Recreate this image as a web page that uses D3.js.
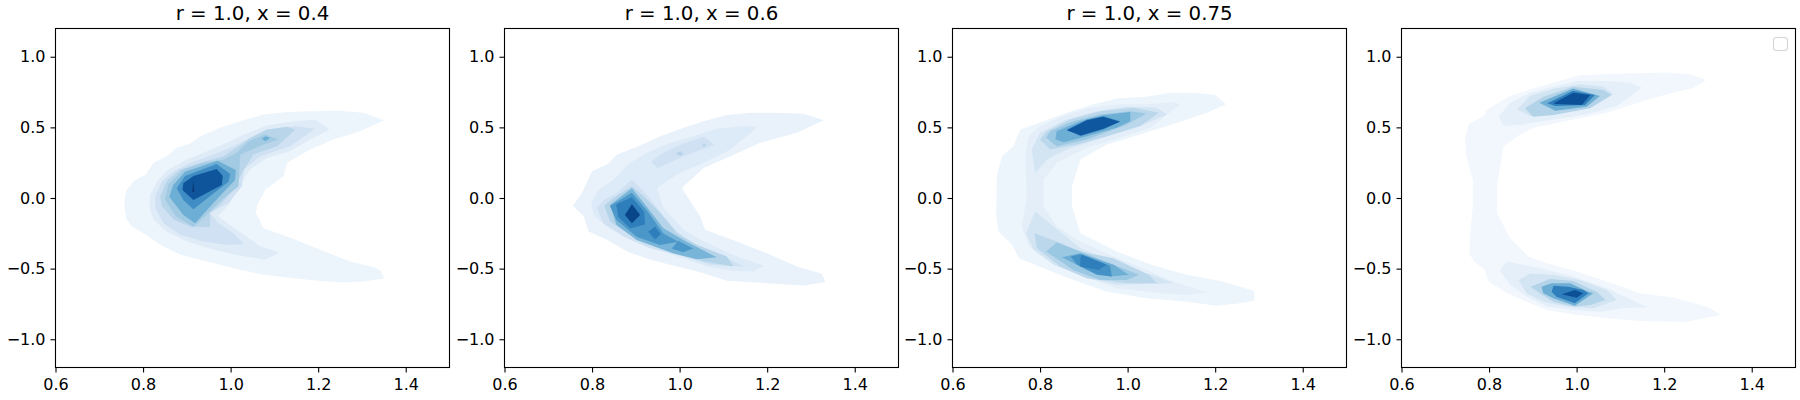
<!DOCTYPE html>
<html lang="en">
<head>
<meta charset="UTF-8">
<title>r = 1.0 density panels</title>
<script src="https://cdn.jsdelivr.net/npm/d3@7"></script>
<style>
    html, body { margin: 0; background: #fff; }
    svg { display: block; }
</style>
</head>
<body>
<script>
const titles = ['r = 1.0, x = 0.4', 'r = 1.0, x = 0.6', 'r = 1.0, x = 0.75', ''];
const xTicks = [0.6, 0.8, 1.0, 1.2, 1.4];
const yTicks = [-1.0, -0.5, 0.0, 0.5, 1.0];

// density level (0..1 of the Blues ramp) of each filled contour
const panel1Levels = [0.05, 0.12, 0.2, 0.29, 0.36, 0.5, 0.5, 0.64, 0.86, 1.0];
const panel1Contours = [
    [[1.351,.551],[1.304,.604],[1.25,.618],[1.182,.615],[1.129,.608],[1.075,.592],[1.022,.544],[.976,.497],[.931,.438],[.908,.386],[.877,.355],[.854,.296],[.824,.249],[.806,.166],[.778,.118],[.761,.047],[.757,-.036],[.761,-.142],[.774,-.201],[.801,-.249],[.839,-.331],[.885,-.402],[.946,-.45],[1.007,-.497],[1.075,-.544],[1.144,-.568],[1.205,-.587],[1.258,-.599],[1.304,-.592],[1.351,-.57],[1.342,-.509],[1.327,-.49],[1.273,-.45],[1.205,-.367],[1.144,-.291],[1.075,-.213],[1.058,-.107],[1.06,-.059],[1.079,.059],[1.121,.154],[1.129,.249],[1.182,.343],[1.235,.414],[1.296,.473]],
    [[1.226,.485],[1.193,.556],[1.144,.544],[1.083,.514],[1.03,.45],[.991,.391],[.946,.331],[.9,.272],[.858,.201],[.832,.118],[.815,.012],[.815,-.071],[.824,-.154],[.854,-.237],[.9,-.308],[.961,-.367],[1.022,-.409],[1.079,-.438],[1.113,-.386],[1.068,-.343],[1.014,-.225],[.972,-.13],[.999,-.036],[1.014,.059],[1.045,.201],[1.083,.284],[1.136,.331],[1.182,.414]],
    [[1.193,.49],[1.148,.509],[1.083,.473],[1.037,.414],[1.007,.367],[.961,.308],[.908,.249],[.87,.189],[.843,.118],[.828,.012],[.828,-.071],[.847,-.178],[.885,-.26],[.938,-.308],[.991,-.331],[1.031,-.327],[1.007,-.249],[.972,-.178],[.953,-.107],[.995,-.036],[1.026,.083],[1.03,.201],[1.068,.296],[1.136,.367]],
    [[1.148,.485],[1.129,.504],[1.083,.485],[1.045,.426],[1.018,.367],[.984,.296],[.931,.249],[.885,.201],[.854,.118],[.839,.012],[.843,-.059],[.87,-.154],[.908,-.201],[.953,-.206],[.953,-.107],[.976,-.047],[1.01,.071],[1.026,.178],[1.052,.308],[1.106,.367]],
    [[1.11,.414],[1.079,.45],[1.041,.402],[1.014,.32],[.984,.272],[.938,.249],[.892,.201],[.858,.095],[.85,-.012],[.875,-.13],[.915,-.205],[.945,-.12],[.98,-.012],[1.018,.083],[1.02,.201],[1.022,.308],[1.075,.379]],
    [[1.071,.419],[1.08,.438],[1.09,.426],[1.08,.402]],
    [[.86,.009],[.869,.092],[.896,.186],[.97,.264],[1.012,.198],[1.01,.127],[.96,-.038],[.919,-.179],[.892,-.12]],
    [[.877,.069],[.896,.156],[.968,.241],[.999,.17],[.995,.115],[.915,-.08],[.892,-.014]],
    [[.892,.104],[.915,.156],[.968,.205],[.982,.156],[.98,.092],[.915,-.014],[.89,.057]],
    [[.914,.118],[.917,.045],[.913,.045]]
];

const panel2Levels = [0.07, 0.13, 0.2, 0.3, 0.3, 0.2, 0.3, 0.47, 0.6, 0.6, 0.7, 0.7, 0.92];
const panel2Contours = [
    [[1.33,.551],[1.283,.596],[1.222,.604],[1.161,.604],[1.108,.587],[1.055,.544],[1.009,.497],[.956,.438],[.91,.372],[.857,.308],[.834,.237],[.8,.189],[.784,.083],[.777,.036],[.756,-.054],[.781,-.13],[.792,-.237],[.834,-.296],[.88,-.379],[.933,-.438],[.994,-.485],[1.055,-.533],[1.108,-.585],[1.177,-.599],[1.237,-.611],[1.283,-.62],[1.333,-.596],[1.325,-.537],[1.268,-.485],[1.199,-.391],[1.131,-.308],[1.058,-.225],[1.047,-.13],[1.005,.071],[1.055,.213],[1.116,.296],[1.184,.391],[1.268,.462]],
    [[1.178,.502],[1.146,.509],[1.085,.49],[1.032,.438],[.979,.391],[.925,.32],[.887,.249],[.849,.13],[.815,.059],[.798,-.036],[.803,-.118],[.834,-.201],[.887,-.296],[.948,-.367],[1.009,-.426],[1.062,-.485],[1.116,-.514],[1.169,-.521],[1.192,-.478],[1.131,-.414],[1.055,-.308],[1.009,-.225],[.963,-.071],[.948,.071],[.994,.166],[1.055,.249],[1.116,.343]],
    [[1.079,.379],[1.056,.433],[1.009,.386],[.963,.32],[.935,.256],[.95,.213],[1.009,.296],[1.062,.355]],
    [[.992,.315],[1.001,.331],[1.009,.315],[1.001,.296]],
    [[1.051,.374],[1.056,.386],[1.061,.372],[1.055,.362]],
    [[.891,.13],[.857,.036],[.828,-.012],[.811,-.071],[.826,-.178],[.872,-.272],[.933,-.355],[1.009,-.414],[1.07,-.473],[1.146,-.485],[1.093,-.402],[1.032,-.331],[.994,-.237],[.963,-.13],[.925,.024]],
    [[.891,.083],[.849,0],[.828,-.054],[.841,-.166],[.887,-.26],[.948,-.338],[1.009,-.395],[1.055,-.45],[1.123,-.485],[1.108,-.414],[1.039,-.331],[.994,-.249],[.956,-.107],[.918,.012]],
    [[.841,-.05],[.891,.069],[.925,-.062],[.963,-.215],[1.016,-.31],[1.085,-.42],[1.039,-.434],[.985,-.392],[.902,-.297],[.856,-.192]],
    [[.841,-.057],[.891,.037],[.925,-.086],[.963,-.251],[.997,-.31],[.955,-.333],[.902,-.275],[.856,-.156]],
    [[.982,-.357],[.997,-.303],[1.031,-.357],[1.008,-.384]],
    [[.855,-.045],[.891,.005],[.919,-.097],[.921,-.187],[.887,-.215],[.86,-.133]],
    [[.928,-.239],[.944,-.203],[.957,-.255],[.944,-.293]],
    [[.891,-.045],[.91,-.12],[.891,-.179],[.875,-.12]]
];

const panel3Levels = [0.05, 0.1, 0.18, 0.18, 0.28, 0.28, 0.38, 0.38, 0.5, 0.5, 0.62, 0.62, 0.85, 0.7];
const panel3Contours = [
    [[1.225,.663],[1.2,.729],[1.151,.746],[1.097,.746],[1.044,.717],[.975,.705],[.922,.663],[.861,.604],[.808,.544],[.755,.485],[.739,.367],[.713,.296],[.701,.154],[.7,-.13],[.705,-.237],[.736,-.331],[.752,-.426],[.808,-.497],[.876,-.58],[.953,-.663],[1.044,-.71],[1.135,-.734],[1.204,-.762],[1.257,-.746],[1.289,-.727],[1.289,-.656],[1.212,-.587],[1.135,-.544],[1.059,-.478],[.975,-.379],[.892,-.249],[.873,-.059],[.873,.083],[.892,.272],[.953,.379],[1.029,.45],[1.113,.533],[1.181,.604]],
    [[1.12,.663],[1.105,.679],[1.044,.663],[.975,.663],[.915,.639],[.861,.592],[.8,.509],[.774,.438],[.766,.296],[.77,.012],[.758,-.201],[.774,-.343],[.823,-.438],[.892,-.544],[.975,-.639],[1.074,-.675],[1.135,-.686],[1.18,-.667],[1.105,-.592],[1.044,-.509],[.968,-.414],[.892,-.308],[.838,-.201],[.808,-.059],[.808,.13],[.838,.249],[.907,.355],[.983,.426],[1.052,.497]],
    [[1.09,.592],[1.067,.639],[.998,.646],[.93,.615],[.861,.556],[.8,.462],[.781,.343],[.789,.178],[.816,.272],[.861,.343],[.953,.438],[1.029,.509]],
    [[.789,-.095],[.768,-.249],[.785,-.367],[.831,-.473],[.907,-.568],[.975,-.615],[1.105,-.604],[1.067,-.556],[.975,-.473],[.892,-.355],[.831,-.201]],
    [[1.071,.604],[1.014,.639],[.937,.615],[.869,.556],[.816,.473],[.8,.414],[.823,.343],[.884,.379],[.953,.438],[1.029,.509]],
    [[.787,-.249],[.793,-.355],[.846,-.485],[.907,-.568],[.998,-.604],[1.067,-.604],[1.048,-.544],[.968,-.426],[.892,-.379],[.838,-.308]],
    [[1.043,.599],[1.006,.615],[.937,.592],[.876,.544],[.823,.473],[.814,.426],[.838,.367],[.907,.414],[.998,.521]],
    [[.814,-.379],[.838,-.315],[.892,-.379],[.968,-.473],[1.026,-.544],[.998,-.58],[.937,-.58],[.876,-.509]],
    [[1.006,.544],[1.006,.608],[.945,.585],[.892,.544],[.838,.473],[.835,.414],[.854,.395],[.907,.438],[.975,.497]],
    [[.85,-.419],[.892,-.391],[.968,-.473],[1.002,-.544],[.96,-.556],[.907,-.509]],
    [[.983,.544],[.945,.58],[.907,.556],[.861,.485],[.892,.438],[.945,.485]],
    [[.87,-.414],[.892,-.396],[.96,-.48],[.964,-.556],[.93,-.544],[.884,-.47]],
    [[.983,.54],[.944,.575],[.907,.551],[.861,.48],[.893,.443],[.945,.49]],
    [[.892,-.426],[.895,-.402],[.952,-.473],[.934,-.509],[.892,-.485]]
];

const panel4Levels = [0.03, 0.09, 0.09, 0.18, 0.18, 0.31, 0.31, 0.5, 0.5, 0.7, 0.7, 0.88, 0.88];
const panel4Contours = [
    [[1.296,.836],[1.26,.876],[1.206,.888],[1.138,.883],[1.069,.878],[1.008,.869],[.947,.817],[.894,.769],[.848,.722],[.795,.627],[.79,.585],[.753,.521],[.745,.414],[.748,.296],[.763,.13],[.763,-.059],[.757,-.249],[.755,-.391],[.765,-.45],[.79,-.509],[.799,-.592],[.841,-.675],[.886,-.734],[.932,-.793],[.993,-.824],[1.069,-.852],[1.145,-.871],[1.252,-.876],[1.29,-.852],[1.33,-.828],[1.301,-.774],[1.221,-.705],[1.145,-.675],[1.069,-.592],[.993,-.514],[.932,-.462],[.89,-.414],[.848,-.284],[.818,-.107],[.818,.083],[.833,.367],[.871,.45],[.902,.497],[.993,.556],[1.069,.604],[1.176,.71],[1.267,.781]],
    [[1.149,.781],[1.122,.817],[1.062,.828],[1.001,.828],[.947,.788],[.894,.746],[.848,.675],[.822,.575],[.833,.509],[.879,.521],[.947,.556],[1.023,.592],[1.092,.651]],
    [[.825,-.514],[.841,-.45],[.917,-.497],[.993,-.556],[1.069,-.639],[1.162,-.774],[1.107,-.781],[1.054,-.805],[.993,-.793],[.932,-.769],[.886,-.698],[.848,-.615]],
    [[1.084,.734],[1.062,.788],[1.008,.805],[.947,.774],[.894,.722],[.864,.627],[.894,.58],[.947,.592],[1.023,.639]],
    [[.867,-.58],[.894,-.537],[.947,-.544],[1.008,-.58],[1.069,-.651],[1.092,-.722],[1.039,-.781],[.978,-.769],[.924,-.734],[.886,-.675]],
    [[.882,.635],[.924,.717],[.992,.788],[1.061,.765],[1.08,.729],[1.031,.635],[.947,.588],[.901,.575]],
    [[.895,-.628],[.939,-.573],[.992,-.588],[1.046,-.663],[1.066,-.722],[1.031,-.758],[.996,-.77],[.947,-.734],[.92,-.682]],
    [[.915,.674],[.992,.776],[1.053,.722],[1.023,.646],[.951,.618]],
    [[.92,-.628],[.943,-.604],[.985,-.604],[1.027,-.663],[1.038,-.675],[.996,-.762],[.947,-.71],[.924,-.675]],
    [[.933,.67],[.992,.759],[1.042,.729],[1.019,.658],[.951,.651]],
    [[.943,-.663],[.947,-.621],[.981,-.628],[1.015,-.651],[1.027,-.675],[.996,-.746],[.954,-.699]],
    [[.947,.67],[.992,.745],[1.031,.729],[1.012,.658],[.954,.665]],
    [[.966,-.682],[.996,-.651],[1.015,-.675],[1,-.706]]
];

const panelLevels = [panel1Levels, panel2Levels, panel3Levels, panel4Levels];
const panelContours = [panel1Contours, panel2Contours, panel3Contours, panel4Contours];

const w = 1800, h = 400;
const plotLefts = [55.5, 504.5, 952.5, 1401.5];
const plotW = 394, plotTop = 28.5, plotBottom = 367.5;

const svg = d3.select('body').append('svg')
    .attr('width', w)
    .attr('height', h)
    .attr('font-family', 'DejaVu Sans');

const color = d3.scaleSequential(d3.interpolateBlues).domain([0, 1]);

const y = d3.scaleLinear().domain([-1.2, 1.2]).range([plotBottom, plotTop]);

panelContours.forEach((contours, p) => {
    const left = plotLefts[p];
    const x = d3.scaleLinear().domain([0.6, 1.5]).range([left, left + plotW]);

    const line = d3.line()
        .x(d => x(d[0]))
        .y(d => y(d[1]))
        .curve(d3.curveLinearClosed);

    const g = svg.append('g');

    g.selectAll('path.band')
        .data(contours)
        .enter()
        .append('path')
        .attr('class', 'band')
        .attr('d', line)
        .attr('fill', (d, i) => color(panelLevels[p][i]));

    // frame
    g.append('rect')
        .attr('x', left)
        .attr('y', plotTop)
        .attr('width', plotW)
        .attr('height', plotBottom - plotTop)
        .attr('fill', 'none')
        .attr('stroke', '#000')
        .attr('stroke-width', 1.1);

    const xAxis = g.append('g')
        .attr('transform', 'translate(0,' + plotBottom + ')')
        .call(d3.axisBottom(x).tickValues(xTicks).tickFormat(d3.format('.1f')).tickSize(5).tickPadding(6));
    const yAxis = g.append('g')
        .attr('transform', 'translate(' + left + ',0)')
        .call(d3.axisLeft(y).tickValues(yTicks).tickFormat(d3.format('.1f')).tickSize(5).tickPadding(5));

    [xAxis, yAxis].forEach(a => {
        a.select('.domain').remove();
        a.selectAll('line').attr('stroke', '#000').attr('stroke-width', 1.1);
        a.selectAll('text').attr('font-size', '16px').attr('fill', '#000').attr('font-family', 'DejaVu Sans');
    });

    g.append('text')
        .attr('x', left + plotW / 2)
        .attr('y', 20)
        .attr('text-anchor', 'middle')
        .attr('font-size', '19.8px')
        .attr('fill', '#000')
        .text(titles[p]);
});

// empty legend box in the last panel
svg.append('rect')
    .attr('x', 1773.5)
    .attr('y', 37.5)
    .attr('width', 14)
    .attr('height', 13)
    .attr('rx', 3)
    .attr('fill', '#fff')
    .attr('stroke', '#d5d5d5')
    .attr('stroke-width', 1.1);
</script>
</body>
</html>
